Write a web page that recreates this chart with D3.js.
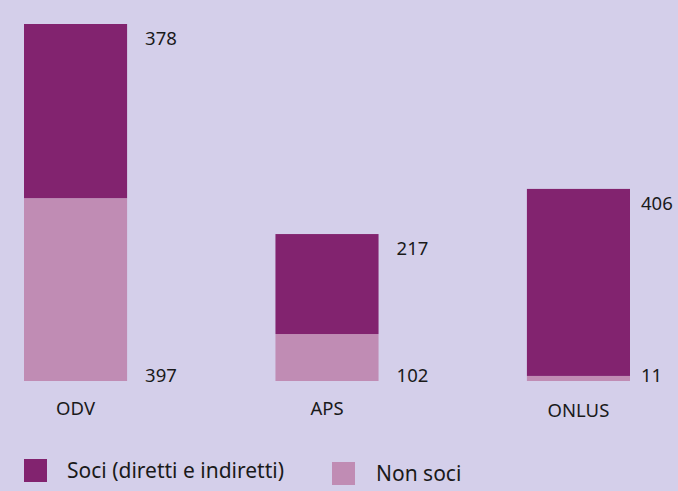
<!DOCTYPE html>
<html>
  <head>
    <meta charset="utf-8" />
    <script src="https://d3js.org/d3.v7.min.js"></script>
    <style>
      body { margin: 0; background: #d4cfea; }
      text { font-family: "Noto Sans", sans-serif; fill: #1a1a1a; }
    </style>
  </head>
  <body>
    <svg id="chart" width="678" height="491"></svg>
    <script>
      // Dati
      const categorie = ["ODV", "APS", "ONLUS"];
      const soci = [378, 217, 406];
      const nonSoci = [397, 102, 11];
      const serie = ["Soci (diretti e indiretti)", "Non soci"];
      const colori = ["#82236f", "#c08cb4"];

      const width = 678;
      const svg = d3.select("#chart");

      const dati = categorie.map((c, i) => ({ cat: c, soci: soci[i], non: nonSoci[i] }));

      // Scale
      const x = d3.scaleBand().domain(categorie).range([24, 630]).paddingInner(0.59).paddingOuter(0);
      const y = d3.scaleLinear()
        .domain([0, d3.max(dati, (d) => d.soci + d.non)])
        .range([381, 24]);

      // posizione etichetta a destra della barra (senza uscire dal bordo)
      const lblX = (d) => Math.min(x(d.cat) + x.bandwidth() + 18, width - 37);

      // Barre non soci
      svg.selectAll(".non")
        .data(dati)
        .join("rect")
        .attr("x", (d) => x(d.cat))
        .attr("width", x.bandwidth())
        .attr("y", (d) => y(d.non))
        .attr("height", (d) => y(0) - y(d.non))
        .attr("fill", colori[1]);

      // Barre soci
      svg.selectAll(".soci")
        .data(dati)
        .join("rect")
        .attr("x", (d) => x(d.cat))
        .attr("width", x.bandwidth())
        .attr("y", (d) => y(d.non + d.soci))
        .attr("height", (d) => y(d.non) - y(d.non + d.soci))
        .attr("fill", colori[0]);

      // Etichette valori
      svg.selectAll(".lblSoci")
        .data(dati)
        .join("text")
        .attr("x", lblX)
        .attr("y", (d) => y(d.non + d.soci) + 21)
        .attr("font-size", 18.5)
        .text((d) => d.soci);

      svg.selectAll(".lblNon")
        .data(dati)
        .join("text")
        .attr("x", lblX)
        .attr("y", y(0) + 1)
        .attr("font-size", 18.5)
        .text((d) => d.non);

      // Asse x
      svg.selectAll(".cat")
        .data(categorie)
        .join("text")
        .attr("x", (d) => x(d) + x.bandwidth() / 2)
        .attr("y", (d, i) => (i === 2 ? 417 : 415))
        .attr("text-anchor", "middle")
        .attr("font-size", 18.5)
        .text((d) => d);

      // Legenda
      const leg = svg.selectAll(".leg")
        .data(serie)
        .join("g")
        .attr("transform", (d, i) => (i === 0 ? "translate(24,459)" : "translate(332,462)"));
      leg.append("rect")
        .attr("width", 23)
        .attr("height", 23)
        .attr("fill", (d, i) => colori[i]);
      leg.append("text")
        .attr("x", (d, i) => (i === 0 ? 43 : 44))
        .attr("y", 19)
        .attr("font-size", 21)
        .text((d) => d);
    </script>
  </body>
</html>
